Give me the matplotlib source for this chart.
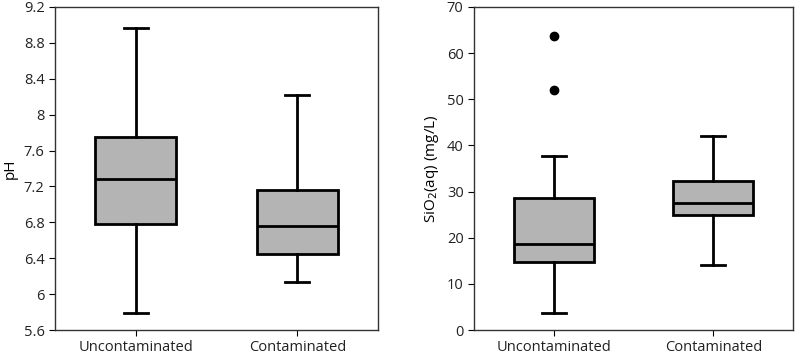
import matplotlib
matplotlib.use("Agg")
from matplotlib import pyplot as plt

plt.rcParams['font.family'] = ['Open Sans', 'DejaVu Sans']

groups = ['Uncontaminated', 'Contaminated']

# pH : whislo, q1, med, q3, whishi
ph_lo = [5.79, 6.14]
ph_q1 = [6.78, 6.45]
ph_med = [7.28, 6.76]
ph_q3 = [7.75, 7.16]
ph_hi = [8.97, 8.22]
ph_fliers = [[], []]

# SiO2 (mg/L)
si_lo = [3.6, 14.1]
si_q1 = [14.8, 25.0]
si_med = [18.6, 27.5]
si_q3 = [28.5, 32.3]
si_hi = [37.8, 42.1]
si_fliers = [[63.7, 52.1], []]


def make_stats(lo, q1, med, q3, hi, fl):
    out = []
    for i in range(len(groups)):
        out.append(dict(whislo=lo[i], q1=q1[i], med=med[i], q3=q3[i],
                        whishi=hi[i], fliers=fl[i], label=groups[i]))
    return out


fig = plt.figure(figsize=(8, 3.57), dpi=100)
ax1 = fig.add_axes([55/800, 1-330/357, 323/800, 323/357])
ax2 = fig.add_axes([474/800, 1-330/357, 319/800, 323/357])

lw = 2.0
for ax, st in [(ax1, make_stats(ph_lo, ph_q1, ph_med, ph_q3, ph_hi, ph_fliers)),
               (ax2, make_stats(si_lo, si_q1, si_med, si_q3, si_hi, si_fliers))]:
    ax.bxp(st, positions=[1, 2], widths=0.5, capwidths=0.15, patch_artist=True,
           boxprops=dict(facecolor='#b4b4b4', edgecolor='black', linewidth=lw),
           medianprops=dict(color='black', linewidth=lw),
           whiskerprops=dict(color='black', linewidth=lw),
           capprops=dict(color='black', linewidth=lw),
           flierprops=dict(marker='o', markerfacecolor='black', markeredgecolor='black',
                           markersize=6))
    ax.set_xlim(0.5, 2.5)
    ax.tick_params(labelsize=10.5, color='black', labelcolor='#222222', length=4)
    for s in ax.spines.values():
        s.set_linewidth(1.0)
        s.set_color('#333333')

ax1.set_ylim(5.6, 9.2)
ax1.set_yticks([5.6, 6, 6.4, 6.8, 7.2, 7.6, 8, 8.4, 8.8, 9.2])
ax1.set_yticklabels(['5.6', '6', '6.4', '6.8', '7.2', '7.6', '8', '8.4', '8.8', '9.2'])
ax1.set_ylabel('pH', fontsize=11)

ax2.set_ylim(0, 70)
ax2.set_yticks(range(0, 71, 10))
ax2.set_ylabel('SiO$_2$(aq) (mg/L)', fontsize=11)

fig.savefig('out.png', dpi=100)
